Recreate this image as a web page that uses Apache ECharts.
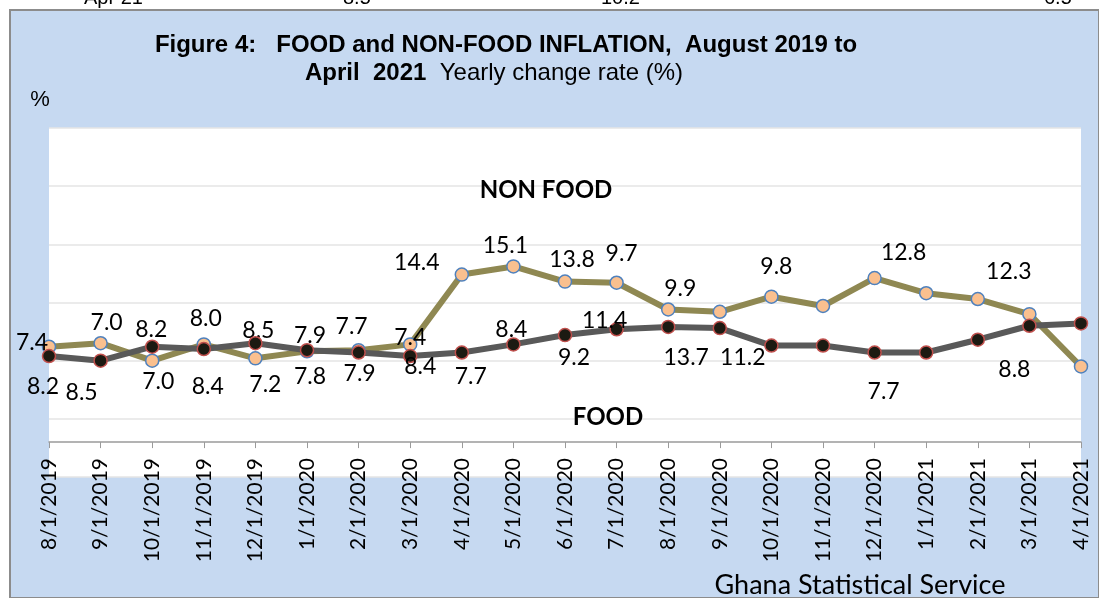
<!DOCTYPE html>
<html>
<head>
<meta charset="utf-8">
<script src="https://cdn.jsdelivr.net/npm/echarts@6/dist/echarts.min.js"></script>
<style>
  html, body { margin: 0; padding: 0; background: #fff; }
  #chart { width: 1099px; height: 598px; }
</style>
</head>
<body>
<div id="chart"></div>
<script>
// months on the category axis
var months = ['8/1/2019', '9/1/2019', '10/1/2019', '11/1/2019', '12/1/2019', '1/1/2020', '2/1/2020',
  '3/1/2020', '4/1/2020', '5/1/2020', '6/1/2020', '7/1/2020', '8/1/2020', '9/1/2020', '10/1/2020',
  '11/1/2020', '12/1/2020', '1/1/2021', '2/1/2021', '3/1/2021', '4/1/2021'];

// olive line (labelled NON FOOD in the chart)
var nonFoodValues = [8.2, 8.5, 7.0, 8.4, 7.2, 7.8, 7.9, 8.4, 14.4, 15.1, 13.8, 13.7, 11.4, 11.2, 12.5,
  11.7, 14.1, 12.8, 12.3, 11.0, 6.5];
// dark line (labelled FOOD)
var foodValues = [7.4, 7.0, 8.2, 8.0, 8.5, 7.9, 7.7, 7.4, 7.7, 8.4, 9.2, 9.7, 9.9, 9.8, 8.3,
  8.3, 7.7, 7.7, 8.8, 10.0, 10.2];

// data label texts as printed on the original (empty = no label)
var nonFoodLabels = ['7.4', '7.0', '8.2', '8.0', '8.5', '7.9', '7.7', '7.4', '14.4', '15.1', '13.8', '9.7',
  '9.9', '', '9.8', '', '12.8', '', '12.3', '', ''];
var foodLabels = ['8.2', '8.5', '7.0', '8.4', '7.2', '7.8', '7.9', '8.4', '7.7', '8.4', '9.2', '11.4',
  '13.7', '11.2', '', '', '7.7', '', '', '8.8', ''];

// y axis scale
var yMin = -3, yMax = 27, yStep = 5;

// label offsets (layout only)
var nonFoodOffsets = [[-17, -4], [6, -21], [-1, -31], [2, -26], [3, -28], [3, -16], [-7, -24], [0, -7],
  [-45, -12], [-8, -21], [7, -22], [5, -29], [12, -21], [0, 0], [5, -30], [0, 0], [29, -25], [0, 0],
  [31, -27], [0, 0], [0, 0]];
var foodOffsets = [[-6, 31], [-19, 32], [6, 35], [4, 38], [10, 41], [3, 26], [1, 21], [10, 11], [9, 24],
  [-2, -15], [9, 23], [-12, -9], [18, 31], [23, 29], [0, 0], [0, 0], [9, 39], [0, 0], [0, 0], [-15, 44], [0, 0]];

var labelFont = 'Lato, "Open Sans", sans-serif';
var arial = '"Liberation Sans", Arial, sans-serif';

function buildData(values, labels, offsets) {
  var out = [];
  for (var i = 0; i < values.length; i++) {
    out.push({
      value: values[i],
      label: {
        show: labels[i] !== '',
        formatter: labels[i],
        offset: offsets[i]
      }
    });
  }
  return out;
}

var chart = echarts.init(document.getElementById('chart'));
chart.setOption({
  backgroundColor: '#fff',
  animation: false,
  graphic: [
    { type: 'rect', z: -10, shape: { x: 10, y: 10, width: 1089, height: 588 },
      style: { fill: '#c6d9f1', stroke: '#8c8c8c', lineWidth: 2 } },
    // clipped remains of a table above the chart
    { type: 'text', left: 84, top: -12, style: { text: 'Apr 21', font: '20px ' + arial, fill: '#000' } },
    { type: 'text', left: 343, top: -12, style: { text: '8.5', font: '20px ' + arial, fill: '#000' } },
    { type: 'text', left: 601, top: -12, style: { text: '10.2', font: '20px ' + arial, fill: '#000' } },
    { type: 'text', left: 1044, top: -12, style: { text: '6.5', font: '20px ' + arial, fill: '#000' } },
    { type: 'text', x: 506, y: 45, style: {
        text: 'Figure 4:   FOOD and NON-FOOD INFLATION,  August 2019 to',
        font: 'bold 24px ' + arial, fill: '#000', align: 'center', verticalAlign: 'middle' } },
    { type: 'text', x: 494, y: 73, style: {
        text: '{b|April  2021}{r|  Yearly change rate (%)}',
        align: 'center', verticalAlign: 'middle',
        rich: {
          b: { font: 'bold 24px ' + arial, fill: '#000' },
          r: { font: '24px ' + arial, fill: '#000' }
        } } },
    { type: 'text', x: 40, y: 100, style: { text: '%', font: '22px ' + arial, fill: '#000',
        align: 'center', verticalAlign: 'middle' } },
    { type: 'text', x: 546, y: 190, z: 10, style: { text: 'NON FOOD', font: 'bold 24px ' + labelFont, fill: '#000',
        align: 'center', verticalAlign: 'middle' } },
    { type: 'text', x: 608, y: 417, z: 10, style: { text: 'FOOD', font: 'bold 24px ' + labelFont, fill: '#000',
        align: 'center', verticalAlign: 'middle' } },
    { type: 'text', x: 860, y: 585, z: 10, style: { text: 'Ghana Statistical Service', font: '27px ' + labelFont,
        fill: '#000', align: 'center', verticalAlign: 'middle' } }
  ],
  grid: {
    left: 49, right: 18, top: 128, bottom: 121,
    show: true, backgroundColor: '#fff', borderWidth: 0
  },
  xAxis: {
    type: 'category',
    data: months,
    boundaryGap: false,
    axisLine: { onZero: true, lineStyle: { color: '#9a9a9a', width: 1.5 } },
    axisTick: { show: true, length: 6, lineStyle: { color: '#9a9a9a' } },
    axisLabel: { rotate: 90, interval: 0, margin: -19, color: '#000', fontSize: 21, fontFamily: labelFont },
    splitLine: { show: false }
  },
  yAxis: {
    type: 'value',
    min: yMin, max: yMax, interval: yStep,
    axisLine: { show: false },
    axisTick: { show: false },
    axisLabel: { show: false },
    splitLine: { lineStyle: { color: '#e4e4e4', width: 1.5 } }
  },
  series: [
    {
      name: 'NON FOOD',
      type: 'line',
      data: buildData(nonFoodValues, nonFoodLabels, nonFoodOffsets),
      symbol: 'circle',
      symbolSize: 13,
      lineStyle: { color: '#8f8852', width: 6 },
      itemStyle: { color: '#fac08f', borderColor: '#4f81bd', borderWidth: 1.5 },
      label: { position: 'inside', color: '#000', fontSize: 23, fontFamily: labelFont },
      z: 2
    },
    {
      name: 'FOOD',
      type: 'line',
      data: buildData(foodValues, foodLabels, foodOffsets),
      symbol: 'circle',
      symbolSize: 13,
      lineStyle: { color: '#595959', width: 6 },
      itemStyle: { color: '#1c1a12', borderColor: '#c0504d', borderWidth: 1.5 },
      label: { position: 'inside', color: '#000', fontSize: 23, fontFamily: labelFont },
      z: 3
    }
  ]
});
</script>
</body>
</html>
